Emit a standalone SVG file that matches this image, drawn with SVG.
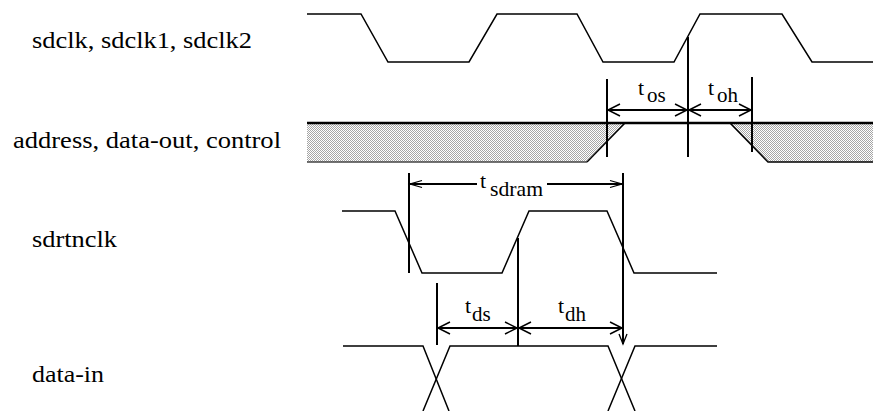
<svg xmlns="http://www.w3.org/2000/svg" width="873" height="411" viewBox="0 0 873 411">
<style>
text{font-family:'Liberation Serif','Times New Roman',Times,Tinos,'Nimbus Roman','Nimbus Roman No9 L',FreeSerif,'Noto Serif','DejaVu Serif',serif;fill:#000}
.lbl{font-size:24px}
.t{font-size:22px}
.sub{font-size:21px}
.wave{fill:none;stroke:#000;stroke-width:1.5}
.mark{fill:none;stroke:#000;stroke-width:2}
.dim{fill:none;stroke:#000;stroke-width:2}
</style>
<defs>
<pattern id="hatch" width="2" height="2" patternUnits="userSpaceOnUse">
<rect width="2" height="2" fill="#fff"/>
<rect width="1" height="1" fill="#a6a6a6"/>
<rect x="1" y="1" width="1" height="1" fill="#a6a6a6"/>
</pattern>
<marker id="arr" markerUnits="userSpaceOnUse" viewBox="0 -8 14 16" markerWidth="14" markerHeight="16" refX="12" refY="0" orient="auto-start-reverse" overflow="visible">
<path d="M0,-6 L12,0 L0,6" fill="none" stroke="#000" stroke-width="1.5"/>
</marker>
<marker id="arrS" markerUnits="userSpaceOnUse" viewBox="0 -8 14 16" markerWidth="14" markerHeight="16" refX="12" refY="0" orient="auto-start-reverse" overflow="visible">
<path d="M0,-3.5 L12,0 L0,3.5" fill="none" stroke="#000" stroke-width="1.3"/>
</marker>
<marker id="arrD" markerUnits="userSpaceOnUse" viewBox="0 -8 14 16" markerWidth="14" markerHeight="16" refX="10" refY="0" orient="auto" overflow="visible">
<path d="M0,-4 L10,0 L0,4" fill="none" stroke="#000" stroke-width="1.3"/>
</marker>
</defs>
<rect width="873" height="411" fill="#fff"/>

<g id="sdclk">
<text class="lbl" x="32" y="48" textLength="220" lengthAdjust="spacingAndGlyphs">sdclk, sdclk1, sdclk2</text>
<polyline class="wave" points="307,14 361,14 388,62 469,62 497,14 577,14 603,62 674,62 700,14 782,14 812,62 873,62"/>
</g>

<g id="address">
<text class="lbl" x="13" y="148" textLength="268" lengthAdjust="spacingAndGlyphs">address, data-out, control</text>
<polygon points="307,123 625,123 587,162 307,162" fill="url(#hatch)"/>
<polygon points="730,123 873,123 873,162 768,162" fill="url(#hatch)"/>
<polyline fill="none" stroke="#444" stroke-width="1.5" points="307,162 587,162"/>
<polyline class="wave" points="587,162 625,123"/>
<polyline class="wave" points="730,123 768,162 873,162"/>
<line x1="307" y1="123" x2="873" y2="123" stroke="#000" stroke-width="2.5"/>
</g>

<g id="sdrtnclk">
<text class="lbl" x="32" y="247" textLength="85" lengthAdjust="spacingAndGlyphs">sdrtnclk</text>
<polyline class="wave" points="342,211 395,211 422,273 502,273 529,211 607,211 634,273 717,273"/>
</g>

<g id="data-in">
<text class="lbl" x="32" y="382" textLength="72" lengthAdjust="spacingAndGlyphs">data-in</text>
<polyline class="wave" points="343,346 423,346 449,411"/>
<polyline class="wave" points="423,411 450,346 608,346 635,411"/>
<polyline class="wave" points="608,411 635,346 717,346"/>
</g>

<g id="connectors">
<line class="mark" x1="607" y1="79" x2="607" y2="157"/>
<line class="mark" x1="688" y1="37" x2="688" y2="157"/>
<line class="mark" x1="752" y1="77" x2="752" y2="152"/>
<line class="dim" x1="608" y1="110" x2="687" y2="110" marker-start="url(#arr)" marker-end="url(#arr)"/>
<line class="dim" x1="689" y1="110" x2="751" y2="110" marker-start="url(#arr)" marker-end="url(#arr)"/>
<line class="mark" x1="409" y1="173" x2="409" y2="273"/>
<line class="mark" x1="623" y1="173" x2="623" y2="344" marker-end="url(#arrD)"/>
<line class="dim" x1="410" y1="184" x2="477" y2="184" marker-start="url(#arrS)"/>
<line class="dim" x1="547" y1="184" x2="622" y2="184" marker-end="url(#arrS)"/>
<line class="mark" x1="437" y1="283" x2="437" y2="345"/>
<line class="mark" x1="518" y1="238" x2="518" y2="346"/>
<line class="dim" x1="438" y1="328" x2="517" y2="328" marker-start="url(#arr)" marker-end="url(#arr)"/>
<line class="dim" x1="519" y1="328" x2="622" y2="328" marker-start="url(#arr)" marker-end="url(#arr)"/>
</g>

<g id="timing-labels">
<text class="t" x="638" y="95">t<tspan class="sub" x="647" dy="7">os</tspan></text>
<text class="t" x="708" y="95">t<tspan class="sub" x="717" dy="7">oh</tspan></text>
<text class="t" x="480" y="188">t<tspan class="sub" x="490" dy="7.5" textLength="53" lengthAdjust="spacingAndGlyphs">sdram</tspan></text>
<text class="t" x="465" y="313">t<tspan class="sub" x="472" dy="7.5">ds</tspan></text>
<text class="t" x="558" y="313">t<tspan class="sub" x="565" dy="7.5">dh</tspan></text>
</g>
</svg>
